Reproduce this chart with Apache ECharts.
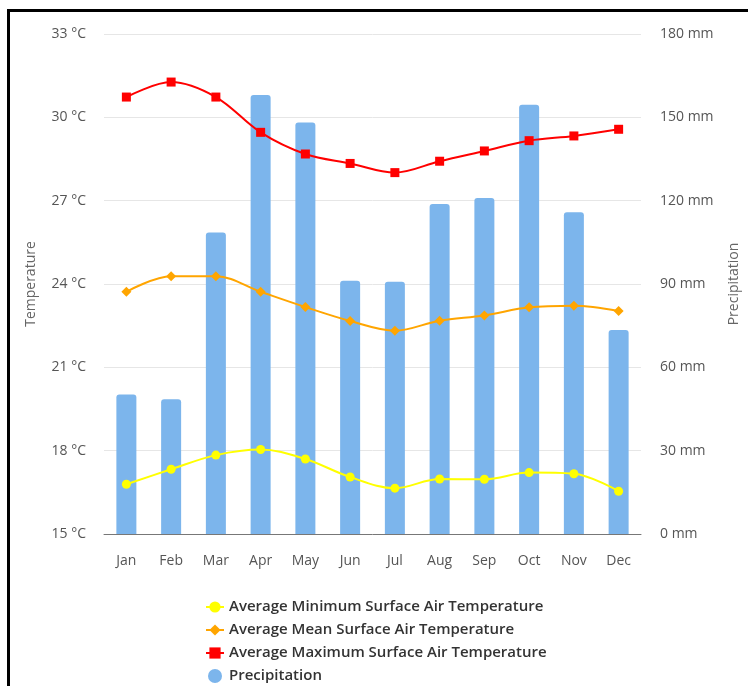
<!DOCTYPE html>
<html>
<head>
<meta charset="utf-8">
<script src="https://cdn.jsdelivr.net/npm/echarts@6/dist/echarts.min.js"></script>
<style>
    html, body { margin: 0; padding: 0; background: #fff; }
    #chart { width: 751px; height: 686px; }
</style>
</head>
<body>
<div id="chart"></div>
<script>
// 数据
var months = ['Jan', 'Feb', 'Mar', 'Apr', 'May', 'Jun', 'Jul', 'Aug', 'Sep', 'Oct', 'Nov', 'Dec'];
var tempMin = [16.79, 17.33, 17.84, 18.04, 17.70, 17.05, 16.65, 16.98, 16.97, 17.21, 17.17, 16.54];
var tempMean = [23.72, 24.28, 24.28, 23.72, 23.17, 22.67, 22.32, 22.68, 22.87, 23.16, 23.22, 23.03];
var tempMax = [30.73, 31.27, 30.73, 29.46, 28.68, 28.34, 28.01, 28.42, 28.79, 29.16, 29.33, 29.57];
var precip = [50.2, 48.5, 108.5, 158.0, 148.1, 91.2, 90.8, 118.8, 121.0, 154.5, 115.8, 73.4];

var names = [
    'Average Minimum Surface Air Temperature',
    'Average Mean Surface Air Temperature',
    'Average Maximum Surface Air Temperature',
    'Precipitation'
];

function drawClimateChart(id) {
    var myChart = echarts.init(document.getElementById(id));
    var font = '"Open Sans", sans-serif';

    var option = {
        animation: false,
        textStyle: { fontFamily: font },
        grid: { left: 104, right: 110, top: 34, bottom: 152 },
        legend: {
            orient: 'vertical',
            left: 205,
            top: 598,
            height: 120,
            padding: 0,
            itemGap: 5,
            itemWidth: 18,
            itemHeight: 14,
            textStyle: { fontSize: 15, lineHeight: 18, color: '#333', fontWeight: 600, fontFamily: font },
            data: [
                { name: names[0] },
                { name: names[1] },
                { name: names[2] },
                { name: names[3], icon: 'circle' }
            ]
        },
        xAxis: {
            type: 'category',
            data: months,
            axisTick: { show: false },
            axisLine: { lineStyle: { color: '#777' } },
            axisLabel: { color: '#555', fontSize: 14, margin: 20 }
        },
        yAxis: [
            {
                type: 'value',
                name: 'Temperature',
                nameLocation: 'middle',
                nameGap: 66,
                nameTextStyle: { color: '#666', fontSize: 14 },
                min: 15, max: 33, interval: 3,
                axisLabel: { formatter: '{value} °C', color: '#555', fontSize: 14, margin: 18 },
                splitLine: { lineStyle: { color: '#e6e6e6' } }
            },
            {
                type: 'value',
                name: 'Precipitation',
                nameLocation: 'middle',
                nameGap: 86,
                nameTextStyle: { color: '#666', fontSize: 14 },
                min: 0, max: 180, interval: 30,
                axisLabel: { formatter: '{value} mm', color: '#555', fontSize: 14, margin: 19 },
                splitLine: { show: false }
            }
        ],
        series: [
            {
                name: names[3],
                type: 'bar',
                yAxisIndex: 1,
                barWidth: 20,
                data: precip,
                itemStyle: { color: '#7cb5ec', borderRadius: [3, 3, 0, 0] },
                z: 1
            },
            {
                name: names[0],
                type: 'line',
                smooth: 0.35,
                data: tempMin,
                symbol: 'circle',
                symbolSize: 9,
                lineStyle: { color: '#ffff00', width: 2 },
                itemStyle: { color: '#ffff00' },
                z: 3
            },
            {
                name: names[1],
                type: 'line',
                smooth: 0.35,
                data: tempMean,
                symbol: 'diamond',
                symbolSize: 10,
                lineStyle: { color: '#ffa500', width: 2 },
                itemStyle: { color: '#ffa500' },
                z: 3
            },
            {
                name: names[2],
                type: 'line',
                smooth: 0.35,
                data: tempMax,
                symbol: 'rect',
                symbolSize: 9,
                lineStyle: { color: '#ff0000', width: 2 },
                itemStyle: { color: '#ff0000' },
                z: 3
            }
        ],
        // 外框（左、上）
        graphic: [
            { type: 'rect', left: 7, top: 9, shape: { width: 3, height: 680 }, style: { fill: '#000' } },
            { type: 'rect', left: 7, top: 9, shape: { width: 741, height: 3 }, style: { fill: '#000' } }
        ]
    };

    myChart.setOption(option);
}

drawClimateChart('chart');
</script>
</body>
</html>
